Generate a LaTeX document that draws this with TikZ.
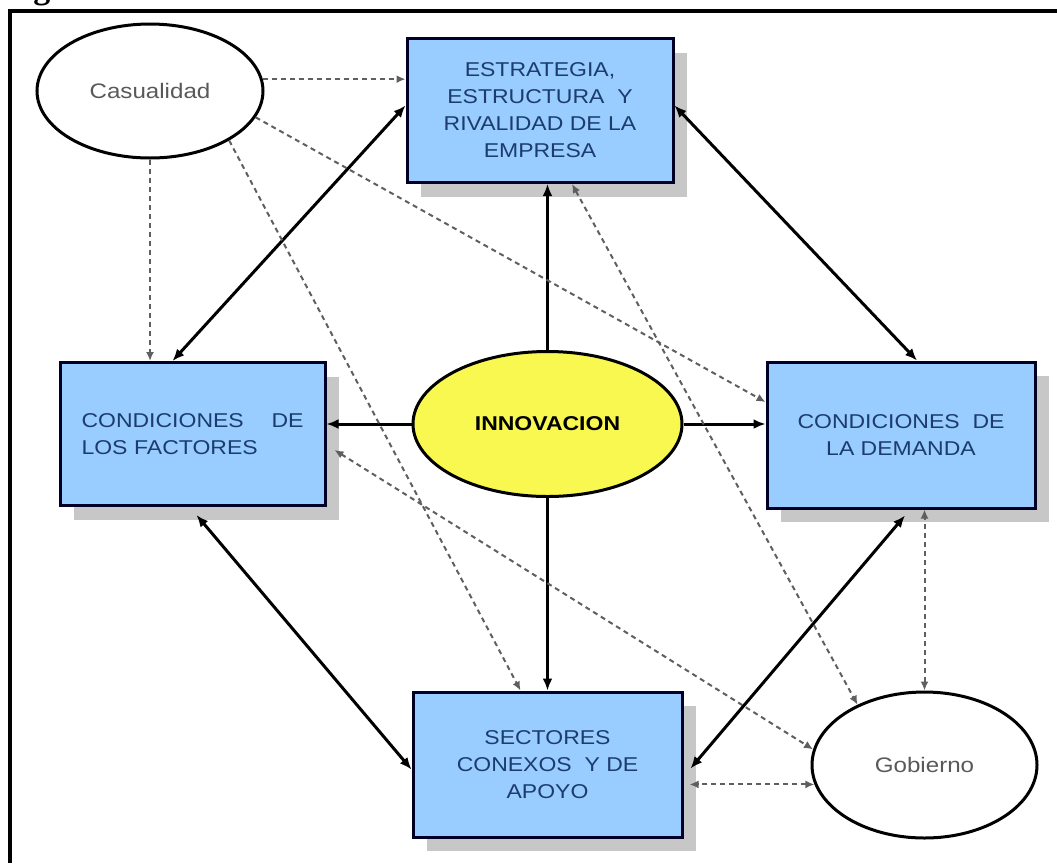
\documentclass[tikz,border=0pt]{standalone}
\usepackage{fontspec}
\setmainfont[FakeStretch=1.15]{Liberation Sans}
\newfontfamily\capfont{Liberation Serif}
\usetikzlibrary{shapes.geometric,shadows,arrows.meta}

\definecolor{boxblue}{RGB}{153,204,255}
\definecolor{boxtext}{RGB}{28,60,110}
\definecolor{innyellow}{RGB}{248,248,80}
\definecolor{hintgray}{RGB}{95,95,95}

\tikzset{
  factor/.style={draw=black!85!blue, line width=3pt, fill=boxblue, text=boxtext,
    minimum width=266pt, minimum height=144pt, align=center,
    font=\fontsize{20}{27}\selectfont,
    drop shadow={shadow xshift=14pt, shadow yshift=-14pt, fill=black!22, opacity=1}},
  oval/.style={ellipse, draw, line width=3pt, fill=white, text=black!65,
    font=\fontsize{21}{25}\selectfont},
  link/.style={{Latex[length=12pt,width=10pt]}-{Latex[length=12pt,width=10pt]}, line width=3pt},
  oneway/.style={-{Latex[length=12pt,width=10pt]}, line width=3pt},
  hint/.style={hintgray, line width=2pt, dash pattern=on 5pt off 4pt},
  hintone/.style={hint, -{Latex[length=9pt,width=8pt]}},
  hinttwo/.style={hint, {Latex[length=9pt,width=8pt]}-{Latex[length=9pt,width=8pt]}}
}

\begin{document}
\begin{tikzpicture}[x=1pt,y=-1pt]
\useasboundingbox (0,0) rectangle (1057,863);

% caption (cut by the page edge) and frame
\node[anchor=base west, inner sep=0pt, font=\capfont\bfseries\fontsize{34}{34}\selectfont] (fig) at (3,-2) {Figura};
\draw[line width=4pt] (10,863) -- (10,11) -- (1057,11);

% determinants
\node[factor] (est) at (540,110.5) {ESTRATEGIA,\\ESTRUCTURA\ \ Y\\RIVALIDAD DE LA\\EMPRESA};
\node[factor, minimum width=265pt, minimum height=143pt, text width=222pt, align=left] (fac) at (192.5,434) {CONDICIONES\hfill DE\\LOS FACTORES};
\node[factor, minimum width=268pt, minimum height=146pt] (dem) at (901,435) {CONDICIONES\ \ DE\\LA DEMANDA};
\node[factor, minimum width=269pt, minimum height=145pt] (sec) at (547.5,764.5) {SECTORES\\CONEXOS\ \ Y DE\\APOYO};

% outside forces
\node[oval, minimum width=226pt, minimum height=134pt] (cas) at (150,91) {Casualidad};
\node[oval, minimum width=225pt, minimum height=146pt] (gob) at (924.5,765) {Gobierno};
\node[oval, minimum width=269pt, minimum height=145pt, fill=innyellow, text=black,
  font=\fontsize{20}{24}\selectfont\bfseries] (inn) at (547.5,424) {INNOVACION};

% diamond
\draw[link] ([xshift=-20pt]fac.north) -- ([yshift=5pt]est.west);
\draw[link] ([yshift=5pt]est.east) -- ([xshift=16pt]dem.north);
\draw[link] ([xshift=4pt,yshift=-8pt]fac.south) -- ([yshift=-5pt]sec.west);
\draw[link] ([xshift=4pt,yshift=-6pt]dem.south) -- ([xshift=7pt,yshift=-4pt]sec.east);

% innovation
\draw[oneway] (inn.north) -- (inn.north |- est.south);
\draw[oneway] (inn.south) -- (inn.south |- sec.north);
\draw[oneway] (inn.west) -- (inn.west -| fac.east);
\draw[oneway] (inn.east) -- (inn.east -| dem.west);

% chance
\draw[hintone] (cas.6) -- (cas.6 -| est.west);
\draw[hintone] (cas.south) -- (cas.south |- fac.north);
\draw[hintone] (cas.-32) -- ([xshift=-27pt]sec.north);
\draw[hintone] (cas.-14) -- ([yshift=33pt]dem.west);

% government
\draw[hinttwo] ([xshift=32pt]est.south) -- (gob.138);
\draw[hinttwo] ([xshift=8pt,yshift=-16pt]fac.east) -- (gob.172);
\draw[hinttwo] (gob.190) -- ([xshift=6pt]gob.190 -| sec.east);
\draw[hinttwo] (gob.north) -- (gob.north |- dem.south);

\end{tikzpicture}
\end{document}
